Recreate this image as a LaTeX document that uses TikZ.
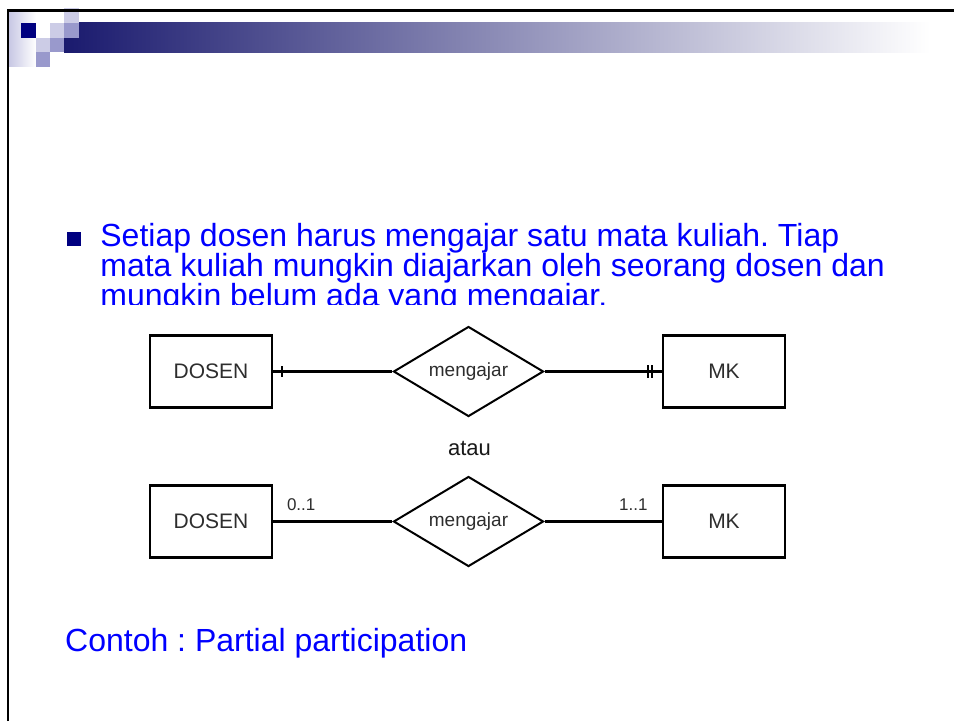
\documentclass[tikz,border=0pt]{standalone}
\usepackage{fontspec}
\setmainfont{Liberation Sans}
\usetikzlibrary{shapes.geometric}
\frenchspacing

\definecolor{slideblue}{RGB}{0,0,255}
\definecolor{navy}{RGB}{0,0,128}
\definecolor{tilelight}{RGB}{204,204,230}
\definecolor{tilemid}{RGB}{153,153,204}
\definecolor{barstart}{RGB}{26,26,110}
\definecolor{striplav}{RGB}{200,200,228}
\definecolor{ertext}{RGB}{45,45,45}

\begin{document}
\begin{tikzpicture}[x=1pt,y=-1pt,
  entity/.style={draw=black,line width=2.2pt,minimum width=122pt,minimum height=72pt,
    inner sep=0pt,font=\fontsize{21}{21}\selectfont,text=ertext},
  relation/.style={diamond,draw=black,line width=2pt,minimum width=150pt,minimum height=90pt,
    aspect=1.667,inner sep=0pt,font=\fontsize{19}{19}\selectfont,text=ertext},
  link/.style={line width=2.2pt},
  tickmark/.style={line width=1.7pt},
  card/.style={anchor=base,inner sep=0pt,font=\fontsize{17}{17}\selectfont,text=ertext},
  bodytext/.style={anchor=base west,inner sep=0pt,text=slideblue,font=\fontsize{32}{30}\selectfont}]

% page
\useasboundingbox (0,0) rectangle (954,721);
\fill[white] (0,0) rectangle (954,721);

% title band decoration
\shade[left color=striplav,right color=white] (9,11.7) rectangle (36,66.7);
\shade[left color=barstart,right color=white] (64,22.7) rectangle (930,52.3);
\fill[navy] (21,22.7) rectangle (36,37.7);
\fill[tilelight] (64,8) rectangle (79,22.7);
\fill[tilelight] (50,22.7) rectangle (64,37.7);
\fill[tilemid] (64,22.7) rectangle (79,37.7);
\fill[tilelight] (36,37.7) rectangle (50,52);
\fill[tilemid] (50,37.7) rectangle (64,52);
\fill[tilemid] (36,52) rectangle (50,66.7);

% slide frame
\draw[line width=2.4pt] (7.9,721) -- (7.9,10.5) -- (954,10.5);

% bullet paragraph
\fill[navy] (66.7,231.7) rectangle (80.7,245.7);
\node[bodytext] (l1) at (100.2,246.7) {Setiap dosen harus mengajar satu mata kuliah. Tiap};
\node[bodytext] (l2) at (100.2,276.7) {mata kuliah mungkin diajarkan oleh seorang dosen dan};
\begin{scope}
  \clip (90,280) rectangle (954,304.5);
  \node[bodytext] (l3) at (100.2,306.7) {mungkin belum ada yang mengajar.};
\end{scope}

% first notation
\node[entity] (e1) at (211,371.5) {DOSEN};
\node[relation] (r1) at (468.5,371.5) {mengajar};
\node[entity] (m1) at (724,371.5) {MK};
\draw[link] (e1) -- (r1);
\draw[link] (r1) -- (m1);
\draw[tickmark] ([xshift=9.2pt]e1.east) ++(0,-5.5) -- ++(0,11);
\draw[tickmark] ([xshift=-14.2pt]m1.west) ++(0,-6.5) -- ++(0,13);
\draw[tickmark] ([xshift=-9.6pt]m1.west) ++(0,-6.5) -- ++(0,13);

\node[anchor=base,inner sep=0pt,font=\fontsize{22}{22}\selectfont,text=black!90] (atau) at (469.5,455) {atau};

% second notation
\node[entity] (e2) at (211,521.5) {DOSEN};
\node[relation] (r2) at (468.5,521.5) {mengajar};
\node[entity] (m2) at (724,521.5) {MK};
\draw[link] (e2) -- (r2);
\draw[link] (r2) -- (m2);
\node[card] (c1) at (301.2,510.7) {0..1};
\node[card] (c2) at (633.3,510.7) {1..1};

% caption
\node[bodytext] (cap) at (65,651.7) {Contoh : Partial participation};
\end{tikzpicture}
\end{document}
